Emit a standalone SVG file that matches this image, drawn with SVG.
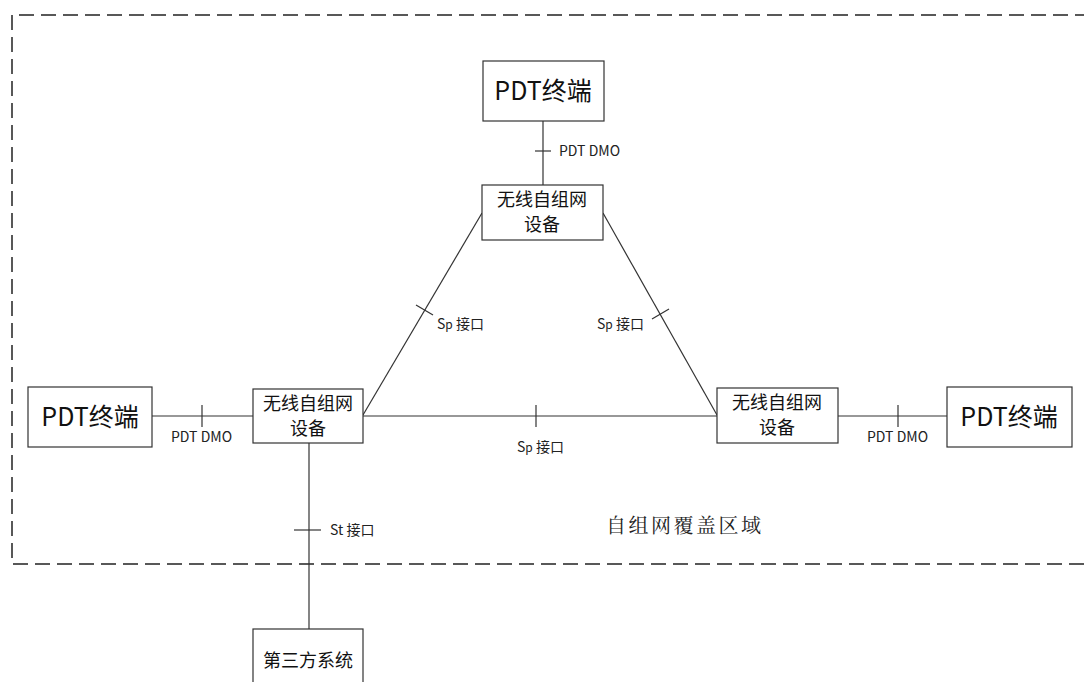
<svg xmlns="http://www.w3.org/2000/svg" width="1084" height="682" viewBox="0 0 1084 682">
<style>
.box{fill:#fff;stroke:#333;stroke-width:1.2}
.ln{stroke:#333;stroke-width:1.2;fill:none}
.dash{stroke:#222;stroke-width:1.5;fill:none;stroke-dasharray:15 7}
.big{font-family:"Noto Sans CJK SC","Noto Sans",sans-serif;font-size:25px;fill:#111;text-anchor:middle}
.mid{font-family:"Noto Sans CJK SC","Noto Sans",sans-serif;font-size:18px;fill:#111;text-anchor:middle}
.sm{font-family:"Noto Sans CJK SC","Noto Sans",sans-serif;font-size:14px;fill:#222}
.area{font-family:"Noto Serif CJK SC","Noto Sans CJK SC",serif;font-size:20px;fill:#222;letter-spacing:2.5px}
</style>
<rect width="1084" height="682" fill="#fff"/>
<g id="region">
<path class="dash" d="M1090 15 H12 V564 H1090"/>
<text class="area" x="606" y="533">自组网覆盖区域</text>
</g>
<g id="connectors">
<line class="ln" x1="543" y1="121" x2="543" y2="185"/>
<line class="ln" x1="535" y1="151" x2="551" y2="151"/>
<line class="ln" x1="152" y1="416" x2="253" y2="416"/>
<line class="ln" x1="202" y1="405" x2="202" y2="427"/>
<line class="ln" x1="838" y1="416" x2="947" y2="416"/>
<line class="ln" x1="898" y1="405" x2="898" y2="427"/>
<line class="ln" x1="363" y1="416" x2="717" y2="416"/>
<line class="ln" x1="536" y1="405" x2="536" y2="427"/>
<line class="ln" x1="482" y1="213" x2="363" y2="415"/>
<line class="ln" x1="416" y1="305" x2="433" y2="315"/>
<line class="ln" x1="603" y1="213" x2="717" y2="415"/>
<line class="ln" x1="652" y1="319" x2="669" y2="309"/>
<line class="ln" x1="309" y1="443" x2="309" y2="629"/>
<line class="ln" x1="294" y1="530" x2="321" y2="530"/>
</g>
<g id="labels">
<text class="sm" x="559" y="156">PDT DMO</text>
<text class="sm" x="171" y="442">PDT DMO</text>
<text class="sm" x="867" y="442">PDT DMO</text>
<text class="sm" x="437" y="329">S<tspan font-size="12">p</tspan> 接口</text>
<text class="sm" x="597" y="329">S<tspan font-size="12">p</tspan> 接口</text>
<text class="sm" x="517" y="452">S<tspan font-size="12">p</tspan> 接口</text>
<text class="sm" x="330" y="535">St 接口</text>
</g>
<g id="pdt-top">
<rect class="box" x="483" y="61" width="121" height="60"/>
<text class="big" x="543" y="100">PDT终端</text>
</g>
<g id="dev-top">
<rect class="box" x="482" y="185" width="121" height="55"/>
<text class="mid" x="542" y="206">无线自组网</text>
<text class="mid" x="542" y="231">设备</text>
</g>
<g id="pdt-left">
<rect class="box" x="28" y="387" width="124" height="60"/>
<text class="big" x="90" y="426">PDT终端</text>
</g>
<g id="dev-left">
<rect class="box" x="253" y="389" width="110" height="54"/>
<text class="mid" x="308" y="410">无线自组网</text>
<text class="mid" x="308" y="435">设备</text>
</g>
<g id="dev-right">
<rect class="box" x="717" y="388" width="121" height="55"/>
<text class="mid" x="777" y="409">无线自组网</text>
<text class="mid" x="777" y="434">设备</text>
</g>
<g id="pdt-right">
<rect class="box" x="947" y="387" width="125" height="60"/>
<text class="big" x="1009" y="426">PDT终端</text>
</g>
<g id="third">
<rect class="box" x="253" y="629" width="110" height="60"/>
<text class="mid" x="308" y="667">第三方系统</text>
</g>
</svg>
